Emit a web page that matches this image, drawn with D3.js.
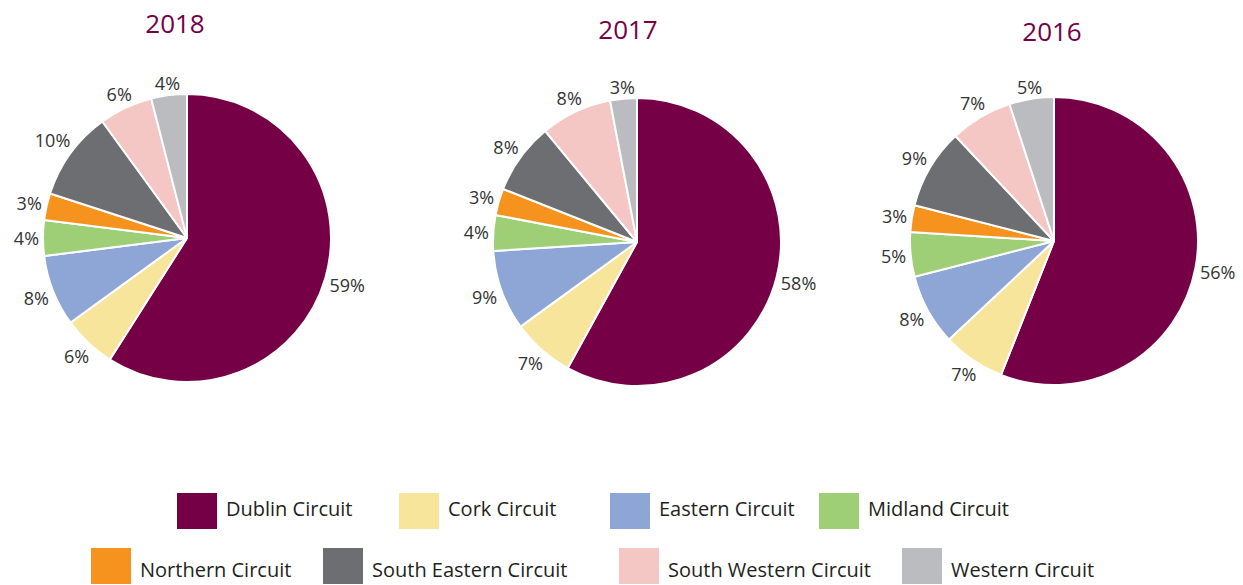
<!DOCTYPE html>
<html>
<head>
<meta charset="utf-8">
<script src="https://cdn.jsdelivr.net/npm/d3@7"></script>
<style>
  body { margin: 0; background: #fff; }
  svg text { font-family: "Open Sans", "Noto Sans", sans-serif; }
</style>
</head>
<body>
<div id="vis"></div>
<script>
// circuits, in the order they go round each pie (clockwise from 12 o'clock)
var circuits = ["Dublin Circuit", "Cork Circuit", "Eastern Circuit", "Midland Circuit",
  "Northern Circuit", "South Eastern Circuit", "South Western Circuit", "Western Circuit"];
var colors = ["#750046", "#f7e59b", "#8ea6d5", "#9ecf77", "#f6921e", "#6d6e71", "#f4c7c5", "#bbbcc0"];

var years = ["2018", "2017", "2016"];
var values2018 = [59, 6, 8, 4, 3, 10, 6, 4];
var values2017 = [58, 7, 9, 4, 3, 8, 8, 3];
var values2016 = [56, 7, 8, 5, 3, 9, 7, 5];
var yearValues = [values2018, values2017, values2016];

var width = 1243, height = 585;

var svg = d3.select("#vis").append("svg")
  .attr("width", width)
  .attr("height", height);

// pie layout settings
var pies = [
  {cx: 187, cy: 238, titleX: 175, titleY: 33},
  {cx: 637, cy: 242, titleX: 628, titleY: 39},
  {cx: 1054, cy: 241, titleX: 1052, titleY: 41}
];
var radius = 144;
var labelGap = 4;

var pie = d3.pie().sort(null).value(d => d);
var arc = d3.arc().innerRadius(0).outerRadius(radius);
var color = d3.scaleOrdinal().domain(circuits).range(colors);

years.forEach(function(year, i) {
  var p = pies[i];
  var g = svg.append("g").attr("transform", "translate(" + p.cx + "," + p.cy + ")");

  var arcs = pie(yearValues[i]);

  g.selectAll("path")
    .data(arcs)
    .enter()
    .append("path")
      .attr("d", arc)
      .attr("fill", (d, j) => color(circuits[j]))
      .attr("stroke", "#fff")
      .attr("stroke-width", 2)
      .attr("stroke-linejoin", "round");

  // labels sit just outside the edge, pushed out by half their box along the slice direction
  g.selectAll("text.lbl")
    .data(arcs)
    .enter()
    .append("text")
      .attr("class", "lbl")
      .attr("text-anchor", "middle")
      .attr("dominant-baseline", "central")
      .style("font-size", "18px")
      .style("fill", "#333")
      .text(d => d.data + "%")
      .each(function(d) {
        var a = (d.startAngle + d.endAngle) / 2;
        var ux = Math.sin(a), uy = -Math.cos(a);
        var bb = this.getBBox();
        var ext = Math.abs(ux) * bb.width / 2 + Math.abs(uy) * 6.5;
        var rr = radius + labelGap + ext;
        d3.select(this).attr("transform", "translate(" + (ux * rr) + "," + (uy * rr) + ")");
      });

  // year title
  svg.append("text")
    .attr("x", p.titleX)
    .attr("y", p.titleY)
    .attr("text-anchor", "middle")
    .style("font-size", "26px")
    .style("fill", "#750046")
    .text(year);
});

// legend, two rows
var legendPos = [
  {x: 177, y: 493, ty: 23}, {x: 399, y: 493, ty: 23}, {x: 610, y: 493, ty: 23}, {x: 819, y: 493, ty: 23},
  {x: 91, y: 548, ty: 29}, {x: 323, y: 548, ty: 29}, {x: 619, y: 548, ty: 29}, {x: 902, y: 548, ty: 29}
];

var legend = svg.append("g")
  .selectAll("g")
  .data(circuits)
  .enter()
  .append("g")
    .attr("transform", (d, i) => "translate(" + legendPos[i].x + "," + legendPos[i].y + ")");

legend.append("rect")
  .attr("width", 40)
  .attr("height", 36)
  .attr("fill", d => color(d));

legend.append("text")
  .attr("x", 49)
  .attr("y", (d, i) => legendPos[i].ty)
  .style("font-size", "20px")
  .style("fill", "#231f20")
  .text(d => d);
</script>
</body>
</html>
